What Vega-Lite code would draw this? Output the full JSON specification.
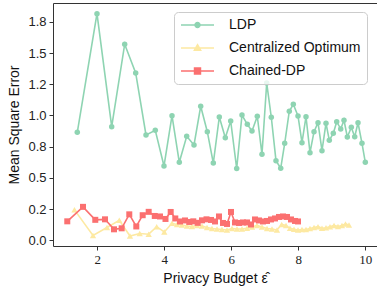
{
  "$schema": "https://vega.github.io/schema/vega-lite/v6.json",
  "width": 324,
  "height": 243,
  "autosize": {"type": "none"},
  "padding": {"left": 53, "top": 3, "right": 0, "bottom": 44},
  "background": "white",
  "config": {
    "view": {"stroke": null},
    "axis": {"domainColor": "#333333", "tickColor": "#333333", "labelColor": "#222222", "titleColor": "#111111", "grid": false, "titleFontWeight": "normal", "tickSize": 4}
  },
  "datasets": {
    "ldp": [
      {"x": 1.403, "y": 0.865}, {"x": 1.991, "y": 1.816}, {"x": 2.430, "y": 0.910}, {"x": 2.818, "y": 1.571}, {"x": 3.146, "y": 1.341},
      {"x": 3.454, "y": 0.844}, {"x": 3.731, "y": 0.881}, {"x": 3.991, "y": 0.595}, {"x": 4.230, "y": 0.998}, {"x": 4.448, "y": 0.625},
      {"x": 4.669, "y": 0.833}, {"x": 4.887, "y": 0.764}, {"x": 5.087, "y": 1.074}, {"x": 5.284, "y": 0.870}, {"x": 5.463, "y": 0.619},
      {"x": 5.642, "y": 0.988}, {"x": 5.821, "y": 0.822}, {"x": 5.982, "y": 0.956}, {"x": 6.161, "y": 0.575}, {"x": 6.319, "y": 1.004},
      {"x": 6.478, "y": 0.929}, {"x": 6.618, "y": 0.876}, {"x": 6.776, "y": 0.994}, {"x": 6.916, "y": 0.689}, {"x": 7.057, "y": 1.260},
      {"x": 7.194, "y": 0.986}, {"x": 7.334, "y": 0.638}, {"x": 7.475, "y": 0.577}, {"x": 7.594, "y": 0.777}, {"x": 7.731, "y": 1.034},
      {"x": 7.851, "y": 1.090}, {"x": 7.991, "y": 0.996}, {"x": 8.110, "y": 0.782}, {"x": 8.230, "y": 0.990}, {"x": 8.349, "y": 0.702},
      {"x": 8.469, "y": 0.870}, {"x": 8.588, "y": 0.942}, {"x": 8.707, "y": 0.718}, {"x": 8.827, "y": 0.938}, {"x": 8.925, "y": 0.801},
      {"x": 9.045, "y": 0.857}, {"x": 9.146, "y": 0.950}, {"x": 9.266, "y": 0.892}, {"x": 9.364, "y": 0.962}, {"x": 9.463, "y": 0.828},
      {"x": 9.582, "y": 0.905}, {"x": 9.684, "y": 0.830}, {"x": 9.782, "y": 0.942}, {"x": 9.901, "y": 0.777}, {"x": 10.000, "y": 0.625}
    ],
    "cent": [
      {"x": 1.319, "y": 0.244}, {"x": 1.872, "y": 0.038}, {"x": 2.290, "y": 0.102}, {"x": 2.657, "y": 0.160}, {"x": 2.976, "y": 0.034},
      {"x": 3.266, "y": 0.054}, {"x": 3.534, "y": 0.049}, {"x": 3.773, "y": 0.109}, {"x": 4.000, "y": 0.067}, {"x": 4.230, "y": 0.136},
      {"x": 4.379, "y": 0.127}, {"x": 4.528, "y": 0.123}, {"x": 4.678, "y": 0.115}, {"x": 4.827, "y": 0.111}, {"x": 4.976, "y": 0.119},
      {"x": 5.125, "y": 0.115}, {"x": 5.275, "y": 0.103}, {"x": 5.424, "y": 0.095}, {"x": 5.573, "y": 0.091}, {"x": 5.722, "y": 0.087},
      {"x": 5.872, "y": 0.083}, {"x": 6.021, "y": 0.095}, {"x": 6.170, "y": 0.091}, {"x": 6.319, "y": 0.091}, {"x": 6.469, "y": 0.096},
      {"x": 6.618, "y": 0.107}, {"x": 6.767, "y": 0.119}, {"x": 6.916, "y": 0.107}, {"x": 7.066, "y": 0.095}, {"x": 7.215, "y": 0.091},
      {"x": 7.364, "y": 0.083}, {"x": 7.504, "y": 0.127}, {"x": 7.633, "y": 0.119}, {"x": 7.752, "y": 0.096}, {"x": 7.872, "y": 0.088},
      {"x": 7.991, "y": 0.083}, {"x": 8.110, "y": 0.087}, {"x": 8.230, "y": 0.087}, {"x": 8.349, "y": 0.095}, {"x": 8.469, "y": 0.103},
      {"x": 8.588, "y": 0.109}, {"x": 8.707, "y": 0.096}, {"x": 8.827, "y": 0.101}, {"x": 8.946, "y": 0.109}, {"x": 9.066, "y": 0.119},
      {"x": 9.185, "y": 0.111}, {"x": 9.304, "y": 0.119}, {"x": 9.409, "y": 0.131}, {"x": 9.513, "y": 0.123}
    ],
    "chain": [
      {"x": 1.104, "y": 0.152}, {"x": 1.573, "y": 0.268}, {"x": 1.940, "y": 0.164}, {"x": 2.230, "y": 0.168}, {"x": 2.499, "y": 0.088},
      {"x": 2.728, "y": 0.096}, {"x": 2.955, "y": 0.208}, {"x": 3.164, "y": 0.111}, {"x": 3.355, "y": 0.201}, {"x": 3.534, "y": 0.228},
      {"x": 3.716, "y": 0.195}, {"x": 3.872, "y": 0.191}, {"x": 4.036, "y": 0.171}, {"x": 4.191, "y": 0.227}, {"x": 4.328, "y": 0.175},
      {"x": 4.469, "y": 0.151}, {"x": 4.618, "y": 0.159}, {"x": 4.746, "y": 0.147}, {"x": 4.866, "y": 0.152}, {"x": 4.997, "y": 0.140},
      {"x": 5.125, "y": 0.160}, {"x": 5.260, "y": 0.168}, {"x": 5.394, "y": 0.163}, {"x": 5.513, "y": 0.151}, {"x": 5.633, "y": 0.191},
      {"x": 5.752, "y": 0.139}, {"x": 5.872, "y": 0.131}, {"x": 5.991, "y": 0.227}, {"x": 6.110, "y": 0.143}, {"x": 6.230, "y": 0.139},
      {"x": 6.349, "y": 0.143}, {"x": 6.469, "y": 0.143}, {"x": 6.588, "y": 0.127}, {"x": 6.707, "y": 0.167}, {"x": 6.827, "y": 0.159},
      {"x": 6.946, "y": 0.151}, {"x": 7.066, "y": 0.155}, {"x": 7.185, "y": 0.167}, {"x": 7.304, "y": 0.175}, {"x": 7.424, "y": 0.187},
      {"x": 7.543, "y": 0.191}, {"x": 7.663, "y": 0.187}, {"x": 7.782, "y": 0.167}, {"x": 7.901, "y": 0.155}, {"x": 7.991, "y": 0.151}
    ],
    "names": [{"series": "LDP"}, {"series": "Centralized Optimum"}, {"series": "Chained-DP"}]
  },
  "resolve": {"axis": {"x": "independent", "y": "independent"}},
  "layer": [
    {
      "data": {"name": "ldp"},
      "mark": {"type": "line", "color": "#8ed4b2", "strokeWidth": 1.6},
      "encoding": {
        "x": {"field": "x", "type": "quantitative",
          "scale": {"domain": [0.678, 10.349], "nice": false, "zero": false},
          "axis": {"values": [2, 4, 6, 8, 10], "labelFont": "Liberation Serif", "labelFontSize": 13, "labelPadding": 3,
            "title": "Privacy Budget ε̂", "titleFont": "Liberation Sans", "titleFontSize": 14, "titlePadding": 5}},
        "y": {"field": "y", "type": "quantitative",
          "scale": {"domain": [-0.0457, 1.9014], "nice": false, "zero": false},
          "axis": {"values": [0, 0.25, 0.5, 0.75, 1, 1.25, 1.5, 1.75],
            "labelExpr": "datum.value == 0.25 ? '0.2' : datum.value == 1.25 ? '1.2' : format(datum.value, '.1f')",
            "labelFont": "Liberation Sans", "labelFontSize": 13, "labelPadding": 3,
            "title": "Mean Square Error", "titleFont": "Liberation Sans", "titleFontSize": 14, "titlePadding": 6}}
      }
    },
    {
      "data": {"name": "ldp"},
      "mark": {"type": "point", "filled": true, "opacity": 1, "color": "#8ed4b2", "shape": "circle", "size": 30},
      "encoding": {
        "x": {"field": "x", "type": "quantitative", "axis": null},
        "y": {"field": "y", "type": "quantitative", "axis": null}
      }
    },
    {
      "data": {"name": "cent"},
      "mark": {"type": "line", "color": "#fde9a2", "strokeWidth": 1.6},
      "encoding": {
        "x": {"field": "x", "type": "quantitative", "axis": null},
        "y": {"field": "y", "type": "quantitative", "axis": null}
      }
    },
    {
      "data": {"name": "cent"},
      "mark": {"type": "point", "filled": true, "opacity": 1, "color": "#fde9a2", "shape": "triangle-up", "size": 40},
      "encoding": {
        "x": {"field": "x", "type": "quantitative", "axis": null},
        "y": {"field": "y", "type": "quantitative", "axis": null}
      }
    },
    {
      "data": {"name": "chain"},
      "mark": {"type": "line", "color": "#fb7070", "strokeWidth": 1.6},
      "encoding": {
        "x": {"field": "x", "type": "quantitative", "axis": null},
        "y": {"field": "y", "type": "quantitative", "axis": null}
      }
    },
    {
      "data": {"name": "chain"},
      "mark": {"type": "point", "filled": true, "opacity": 1, "color": "#fb7070", "shape": "square", "size": 36},
      "encoding": {
        "x": {"field": "x", "type": "quantitative", "axis": null},
        "y": {"field": "y", "type": "quantitative", "axis": null}
      }
    },
    {
      "data": {"name": "ldp"},
      "transform": [{"filter": "false"}],
      "mark": {"type": "point", "opacity": 0},
      "encoding": {
        "x": {"field": "x", "type": "quantitative",
          "axis": {"orient": "top", "labels": false, "ticks": false, "title": null, "domain": true}}
      }
    },
    {
      "data": {"name": "names"},
      "transform": [{"filter": "false"}],
      "mark": {"type": "point", "filled": true, "opacity": 1, "strokeWidth": 1.5, "size": 1089},
      "encoding": {
        "fill": {"field": "series", "type": "nominal",
          "scale": {"domain": ["LDP", "Centralized Optimum", "Chained-DP"], "range": ["#8ed4b2", "#fde9a2", "#fb7070"]},
          "legend": {"title": null, "orient": "none", "legendX": 121, "legendY": 9, "padding": 6, "fillColor": "rgba(255,255,255,0.8)", "strokeColor": "#cccccc", "cornerRadius": 4, "labelFont": "Liberation Sans", "labelFontSize": 14, "labelColor": "#111111", "labelOffset": 14, "symbolSize": 1089, "symbolStrokeWidth": 1.5, "clipHeight": 14, "rowPadding": 9}},
        "stroke": {"field": "series", "type": "nominal",
          "scale": {"domain": ["LDP", "Centralized Optimum", "Chained-DP"], "range": ["#8ed4b2", "#fde9a2", "#fb7070"]},
          "legend": {"title": null, "orient": "none", "legendX": 121, "legendY": 9, "padding": 6, "fillColor": "rgba(255,255,255,0.8)", "strokeColor": "#cccccc", "cornerRadius": 4, "labelFont": "Liberation Sans", "labelFontSize": 14, "labelColor": "#111111", "labelOffset": 14, "symbolSize": 1089, "symbolStrokeWidth": 1.5, "clipHeight": 14, "rowPadding": 9}},
        "shape": {"field": "series", "type": "nominal",
          "scale": {"domain": ["LDP", "Centralized Optimum", "Chained-DP"],
            "range": ["M-1,0L1,0M-0.15,0A0.15,0.15,0,1,1,0.15,0A0.15,0.15,0,1,1,-0.15,0Z", "M-1,0L1,0M0,-0.2L0.19,0.13L-0.19,0.13Z", "M-1,0L1,0M-0.18,-0.18L0.18,-0.18L0.18,0.18L-0.18,0.18Z"]},
          "legend": {"title": null, "orient": "none", "legendX": 121, "legendY": 9, "padding": 6, "fillColor": "rgba(255,255,255,0.8)", "strokeColor": "#cccccc", "cornerRadius": 4, "labelFont": "Liberation Sans", "labelFontSize": 14, "labelColor": "#111111", "labelOffset": 14, "symbolSize": 1089, "symbolStrokeWidth": 1.5, "clipHeight": 14, "rowPadding": 9}}
      }
    }
  ]
}
